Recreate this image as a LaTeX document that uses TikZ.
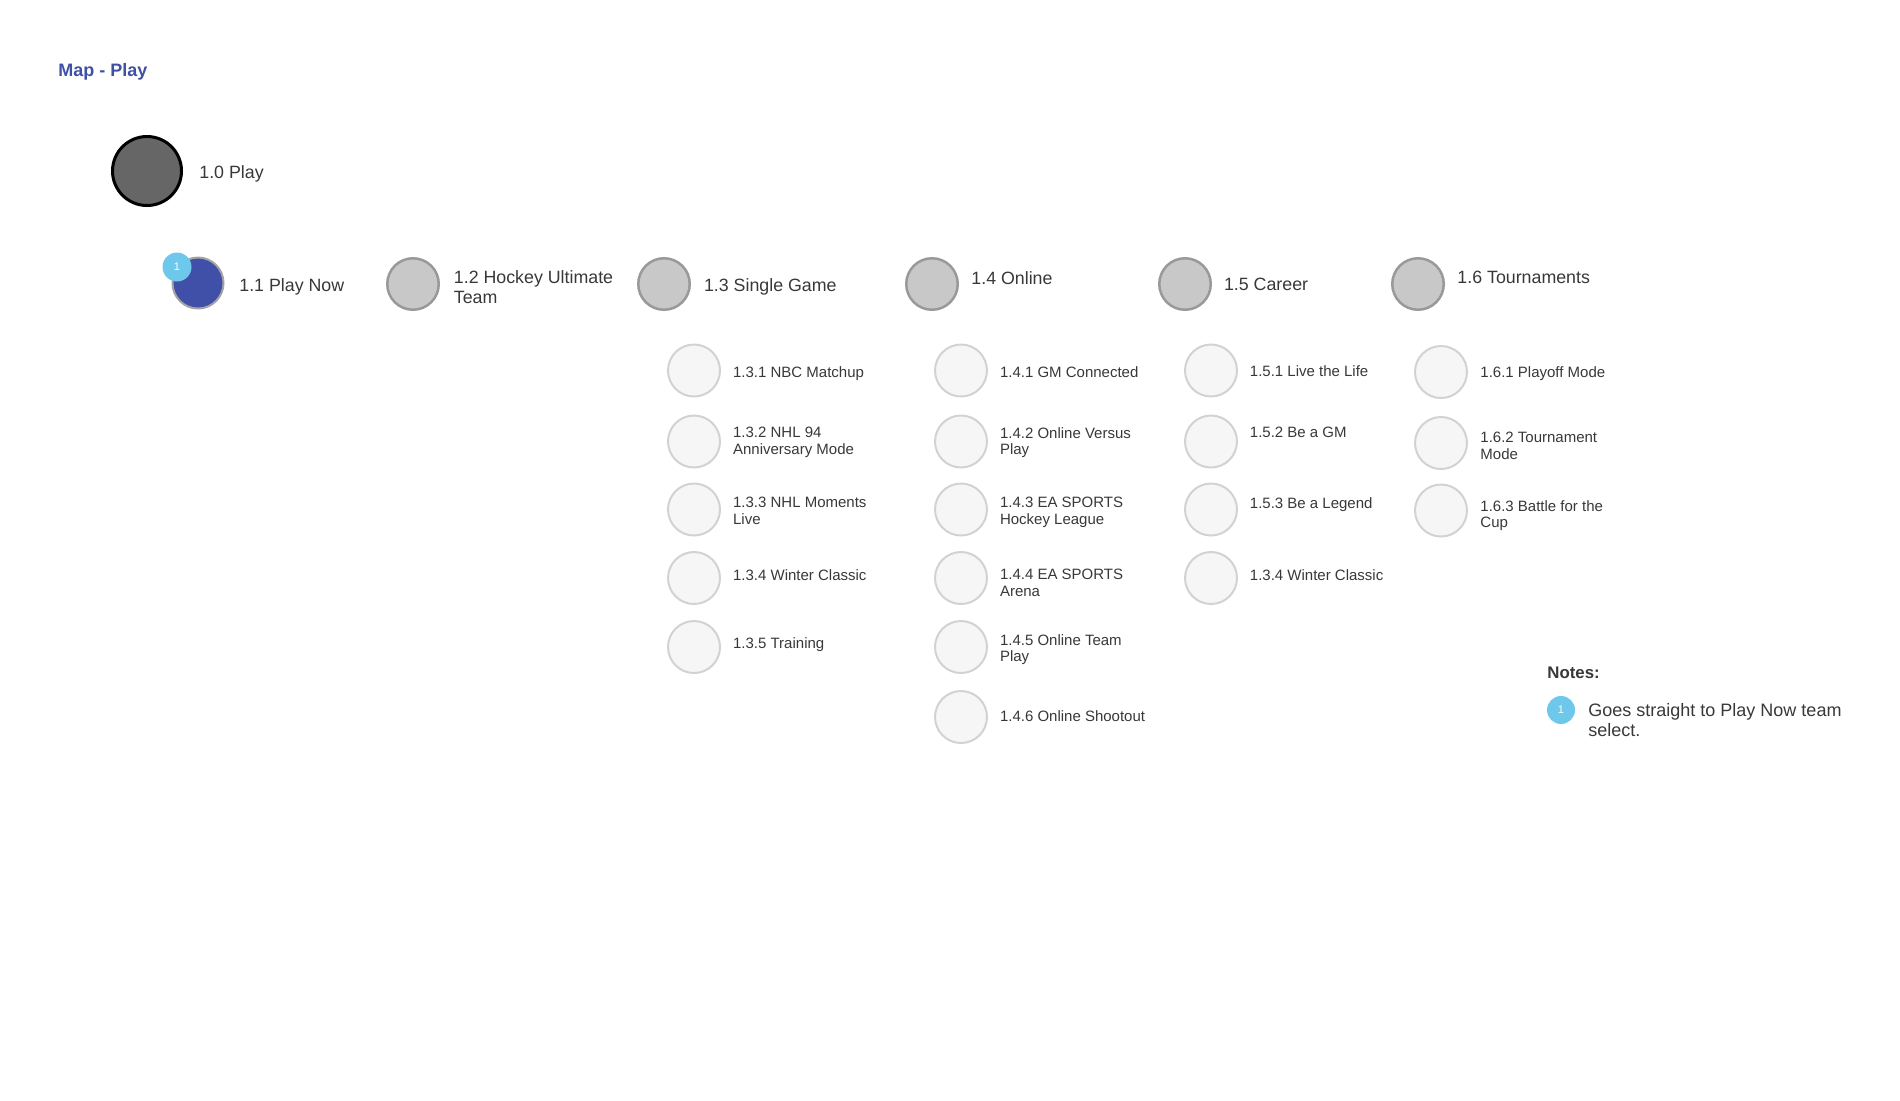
\documentclass[tikz,border=0pt]{standalone}
\usepackage{fontspec}
\setmainfont{Liberation Sans}
\definecolor{rootfill}{HTML}{666666}
\definecolor{topfill}{HTML}{C8C8C8}
\definecolor{topline}{HTML}{999999}
\definecolor{subfill}{HTML}{F6F6F6}
\definecolor{subline}{HTML}{D2D2D2}
\definecolor{nowfill}{HTML}{4050A8}
\definecolor{badgeblue}{HTML}{6EC8EC}
\definecolor{titleblue}{HTML}{3F51A5}
\definecolor{labelgray}{HTML}{383838}
\begin{document}
\begin{tikzpicture}[x=0.5pt,y=-0.5pt,
	topcircle/.style={circle,draw=topline,fill=topfill,line width=1.25pt,minimum size=25.75pt,inner sep=0pt},
	subcircle/.style={circle,draw=subline,fill=subfill,line width=1pt,minimum size=26pt,inner sep=0pt},
	toplabel/.style={anchor=north west,inner sep=0pt,align=left,text=labelgray,font=\fontsize{8.9}{10}\selectfont},
	sublabel/.style={anchor=north west,inner sep=0pt,align=left,text=labelgray,font=\fontsize{7.5}{8.3}\selectfont},
	badge/.style={circle,fill=badgeblue,minimum size=14.5pt,inner sep=0pt,text=white,font=\fontsize{5.5}{6}\selectfont}]
\useasboundingbox (0,0) rectangle (1900,1100);
\node[anchor=north west,inner sep=0pt,text=titleblue,font=\fontsize{9}{10}\selectfont\bfseries] (title) at (58,63) {Map - Play};
\node[circle,draw=black,fill=rootfill,line width=1.5pt,minimum size=34.5pt,inner sep=0pt] (p10) at (147,171) {};
\node[toplabel] (l10) at (199,165) {1.0 Play};
\node[circle,draw=topline!90,fill=nowfill,line width=1pt,minimum size=25.5pt,inner sep=0pt] (p11) at (198,283) {};
\node[badge] (b11) at (177,267) {1};
\node[toplabel] (l11) at (239,278) {1.1 Play Now};
\foreach \n/\x/\lx/\ly/\t in {12/413/453.5/270/{1.2 Hockey Ultimate\\Team},13/664/703.6/278/{1.3 Single Game},
	14/932/971/270.7/{1.4 Online},15/1185/1223.6/278/{1.5 Career},16/1418/1457/270.7/{1.6 Tournaments}}{
	\node[topcircle] (p\n) at (\x,284) {};
	\node[toplabel] (l\n) at (\lx,\ly) {\t};}
\foreach \y/\ly/\t [count=\i] in {370.5/366.7/{1.3.1 NBC Matchup},441.5/427/{1.3.2 NHL 94\\Anniversary Mode},
	509.5/497/{1.3.3 NHL Moments\\Live},578/569/{1.3.4 Winter Classic},647/637/{1.3.5 Training}}{
	\node[subcircle] (p13\i) at (694,\y) {};
	\node[sublabel] (l13\i) at (732.7,\ly) {\t};}
\foreach \y/\ly/\t [count=\i] in {370.5/366.7/{1.4.1 GM Connected},441.5/427/{1.4.2 Online Versus\\Play},
	509.5/497/{1.4.3 EA SPORTS\\Hockey League},578/569/{1.4.4 EA SPORTS\\Arena},647/634/{1.4.5 Online Team\\Play},
	717/710.7/{1.4.6 Online Shootout}}{
	\node[subcircle] (p14\i) at (961,\y) {};
	\node[sublabel] (l14\i) at (999.6,\ly) {\t};}
\foreach \y/\ly/\t [count=\i] in {370.5/365.5/{1.5.1 Live the Life},441.5/427/{1.5.2 Be a GM},
	509.5/497/{1.5.3 Be a Legend},578/569/{1.3.4 Winter Classic}}{
	\node[subcircle] (p15\i) at (1211,\y) {};
	\node[sublabel] (l15\i) at (1249.5,\ly) {\t};}
\foreach \y/\ly/\t [count=\i] in {372/366.7/{1.6.1 Playoff Mode},443/431.7/{1.6.2 Tournament\\Mode},
	510.5/500/{1.6.3 Battle for the\\Cup}}{
	\node[subcircle] (p16\i) at (1441,\y) {};
	\node[sublabel] (l16\i) at (1480,\ly) {\t};}
\node[anchor=north west,inner sep=0pt,text=labelgray,font=\fontsize{8.4}{10}\selectfont\bfseries] (notes) at (1547,666.7) {Notes:};
\node[badge,minimum size=14pt] (b1) at (1561,710) {1};
\node[anchor=north west,inner sep=0pt,align=left,text=labelgray,font=\fontsize{9}{10}\selectfont] (n1) at (1588,703) {Goes straight to Play Now team\\select.};
\end{tikzpicture}
\end{document}
